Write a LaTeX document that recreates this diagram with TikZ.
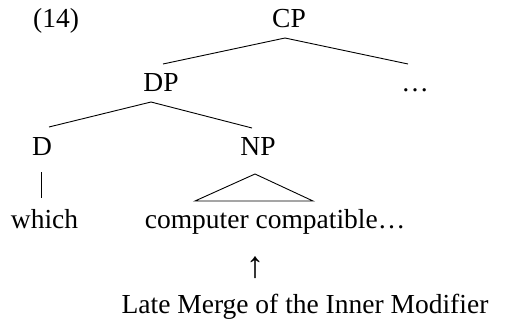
\documentclass[tikz,border=0pt]{standalone}
\usepackage{fontspec}
\setmainfont{Liberation Serif}
\usetikzlibrary{calc}
\begin{document}
\begin{tikzpicture}[x=1pt,y=-1pt,
  lbl/.style={anchor=base,inner sep=0pt,font=\fontsize{27.5}{32}\selectfont},
  edge/.style={line width=0.9pt}]
\useasboundingbox (0,0) rectangle (505,331);
\node[lbl] (ex) at (56,28) {(14)};
\node[lbl] (CP) at (289,28) {CP};
\node[lbl] (DP) at (161,91.5) {DP};
\node[lbl] (dots) at (415,91.5) {…};
\node[lbl] (D) at (42,155) {D};
\node[lbl] (NP) at (258,155) {NP};
\node[lbl] (which) at (44.5,228) {which};
\node[lbl] (comp) at (275,228) {computer compatible…};
\node[inner sep=0pt,font=\fontsize{37}{40}\selectfont] (arr) at (255,268) {↑};
\node[lbl] (late) at (305,313) {Late Merge of the Inner Modifier};
% connectors
\coordinate (cpb) at ($(CP.base)+(-4,10)$);
\coordinate (dpt) at ($(DP.base)+(2,-27.5)$);
\coordinate (dott) at ($(dots.base)+(-7,-27.5)$);
\coordinate (dpb) at ($(DP.base)+(-10,10.5)$);
\coordinate (dt) at ($(D.base)+(7,-28)$);
\coordinate (npt) at ($(NP.base)+(-6,-27)$);
\coordinate (db) at ($(D.base)+(-1,17)$);
\coordinate (wt) at ($(db)+(0,26)$);
\coordinate (apex) at ($(NP.base)+(-3,19)$);
\coordinate (bl) at ($(comp.base)+(-80,-27)$);
\coordinate (br) at ($(comp.base)+(38,-27)$);
\draw[edge] (cpb) -- (dpt);
\draw[edge] (cpb) -- (dott);
\draw[edge] (dpb) -- (dt);
\draw[edge] (dpb) -- (npt);
\draw[edge] (db) -- (wt);
\draw[edge] (apex) -- (bl) -- (br) -- cycle;
\end{tikzpicture}
\end{document}
